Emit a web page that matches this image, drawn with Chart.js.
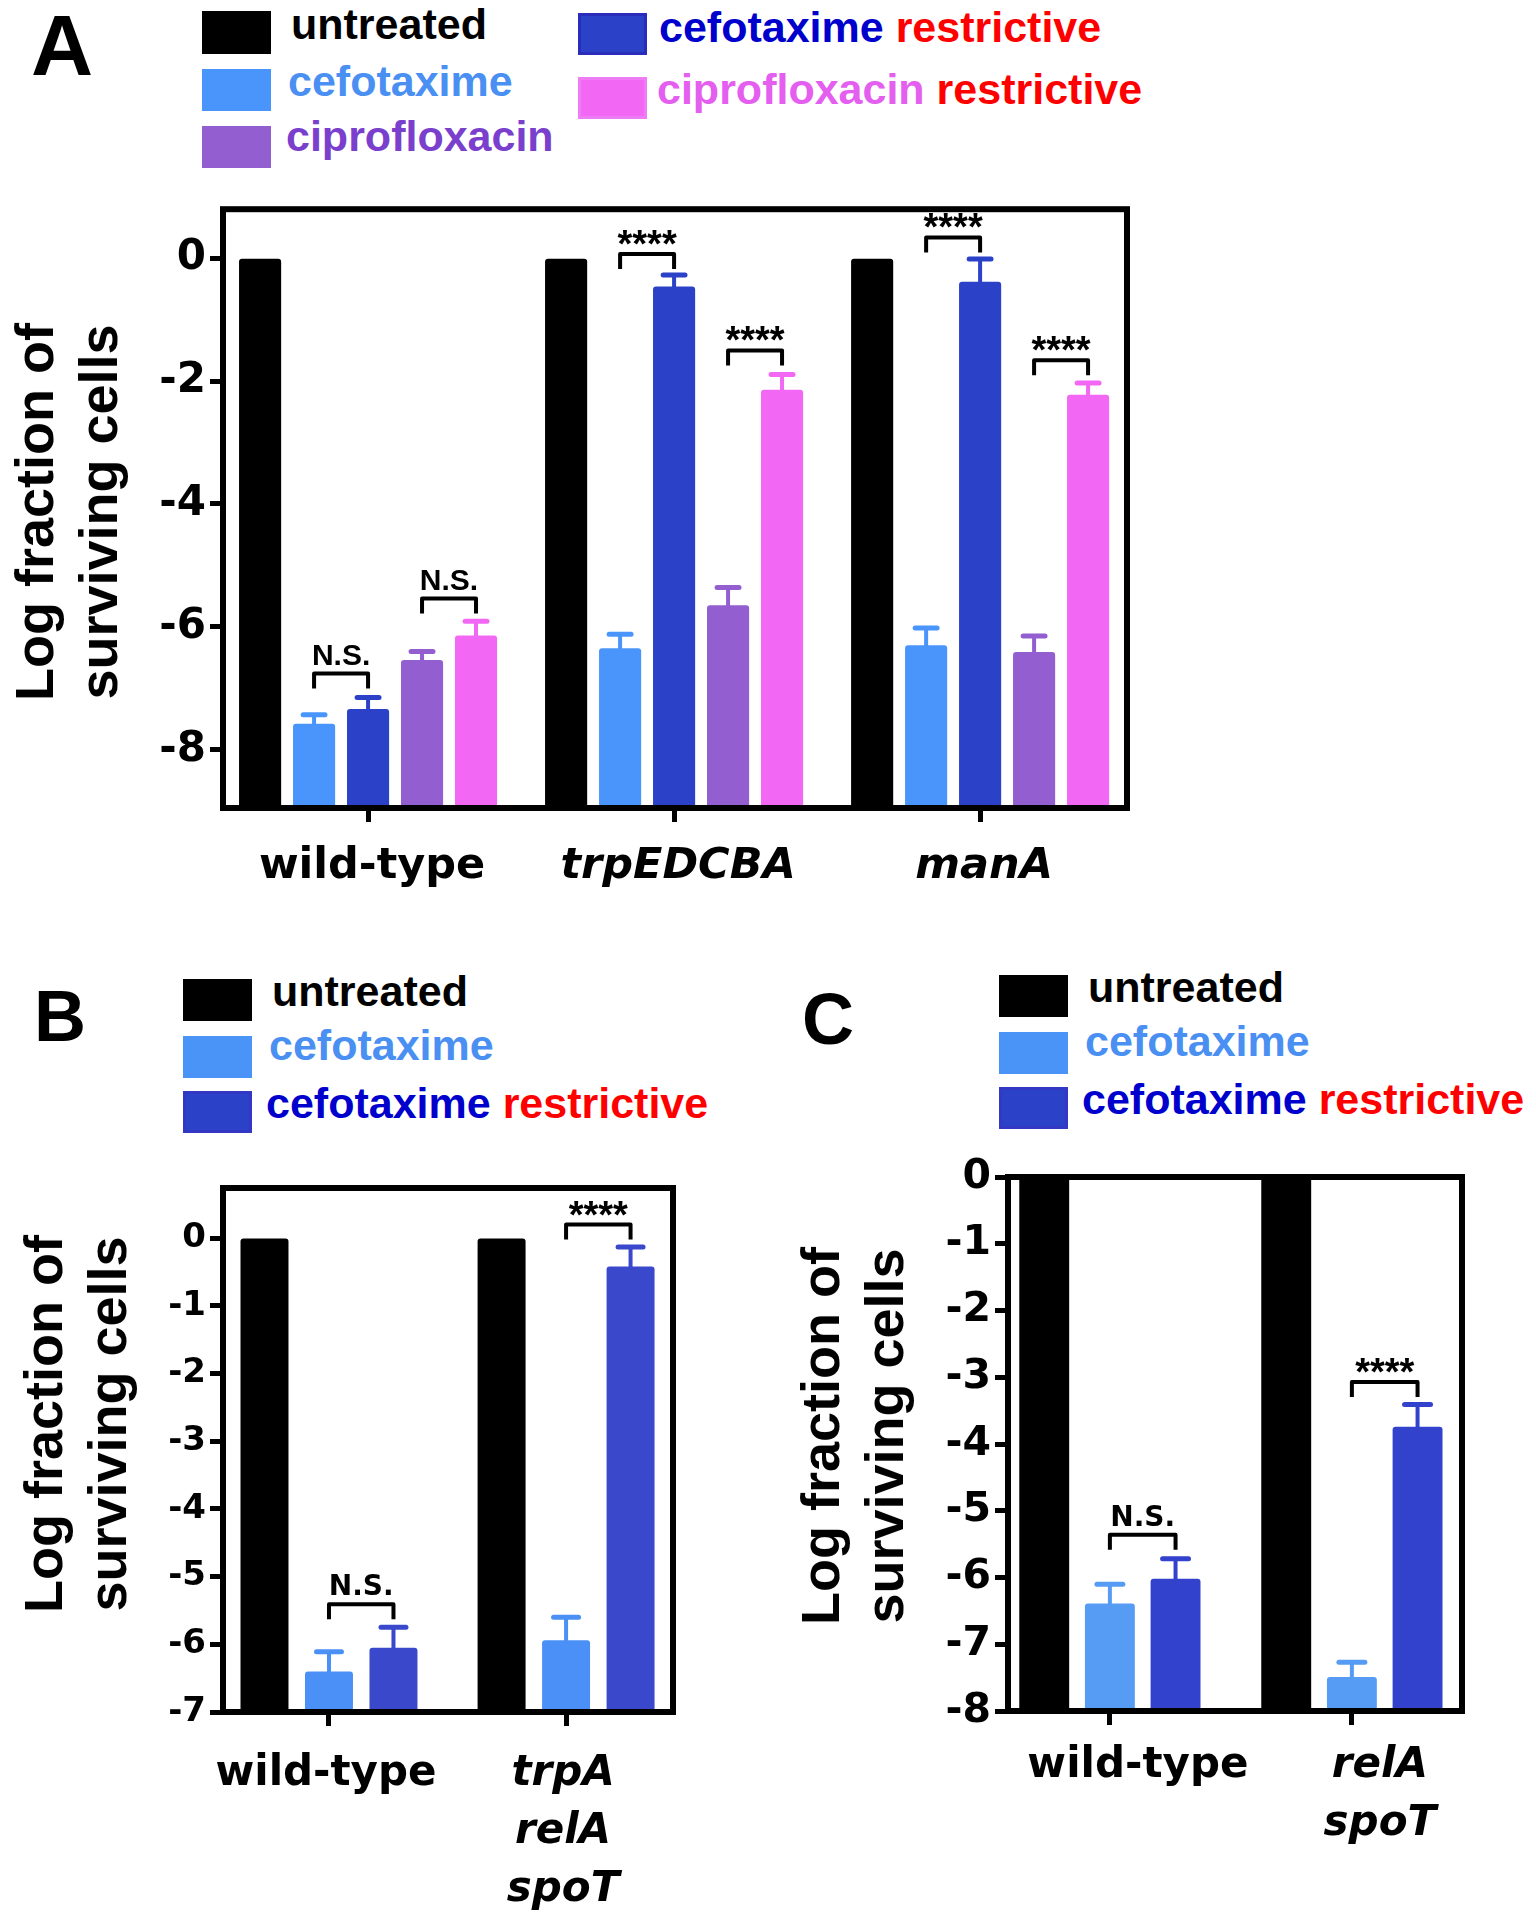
<!DOCTYPE html>
<html>
<head>
<meta charset="utf-8">
<title>Log fraction of surviving cells</title>
<script src="https://cdn.jsdelivr.net/npm/chart.js@4.4.1/dist/chart.umd.min.js"></script>
<style>
  html, body { margin:0; padding:0; background:#fff; }
  #page { position:relative; width:1536px; height:1920px; overflow:hidden; background:#fff; }
  .cv { position:absolute; }
  .txt { position:absolute; white-space:nowrap; font-weight:bold; line-height:1; }
  .lib { font-family:"Liberation Sans", Arial, sans-serif; }
  .dv { font-family:"DejaVu Sans", sans-serif; }
  .sw { position:absolute; box-sizing:border-box; }
  .ytitle { position:absolute; white-space:nowrap; font-family:"Liberation Sans", Arial, sans-serif; font-weight:bold;
            font-size:54px; line-height:64px; text-align:center; transform:translate(-50%,-50%) rotate(-90deg); color:#000; }
</style>
</head>
<body>
<div id="page">
  <canvas id="chartA" class="cv" width="1160" height="780" style="left:0;top:180px;"></canvas>
  <canvas id="chartB" class="cv" width="720" height="770" style="left:0;top:1150px;"></canvas>
  <canvas id="chartC" class="cv" width="796" height="780" style="left:740px;top:1140px;"></canvas>

  <!-- Panel A letter and legend -->
  <div class="txt lib" style="left:31px;top:2px;font-size:86px;">A</div>
  <div class="sw" style="left:202px;top:11px;width:69px;height:43px;background:#000;"></div>
  <div class="txt lib" style="left:291px;top:3px;font-size:43px;color:#000;">untreated</div>
  <div class="sw" style="left:202px;top:69px;width:69px;height:42px;background:#4A95FB;"></div>
  <div class="txt lib" style="left:288px;top:60px;font-size:43px;color:#4A8FF2;">cefotaxime</div>
  <div class="sw" style="left:202px;top:126px;width:69px;height:42px;background:#925ED0;"></div>
  <div class="txt lib" style="left:286px;top:115px;font-size:43px;color:#7A3FCC;">ciprofloxacin</div>
  <div class="sw" style="left:578px;top:13px;width:69px;height:42px;background:#2B41C8;border:3px solid #2A2DBB;"></div>
  <div class="txt lib" style="left:659px;top:6px;font-size:43px;"><span style="color:#0000CC;">cefotaxime</span> <span style="color:#FF0000;">restrictive</span></div>
  <div class="sw" style="left:578px;top:77px;width:69px;height:42px;background:#F268F5;border:3px solid #EE7CF4;"></div>
  <div class="txt lib" style="left:657px;top:68px;font-size:43px;"><span style="color:#E45EF0;">ciprofloxacin</span> <span style="color:#FF0000;">restrictive</span></div>
  <div class="ytitle" style="left:66px;top:512px;">Log fraction of<br>surviving cells</div>

  <!-- Panel B letter and legend -->
  <div class="txt lib" style="left:34px;top:980px;font-size:72px;">B</div>
  <div class="sw" style="left:183px;top:979px;width:69px;height:42px;background:#000;"></div>
  <div class="txt lib" style="left:272px;top:970px;font-size:43px;color:#000;">untreated</div>
  <div class="sw" style="left:183px;top:1036px;width:69px;height:42px;background:#4A94F8;"></div>
  <div class="txt lib" style="left:269px;top:1024px;font-size:43px;color:#4A8FF2;">cefotaxime</div>
  <div class="sw" style="left:183px;top:1091px;width:69px;height:42px;background:#2B41C8;border:3px solid #3338C4;"></div>
  <div class="txt lib" style="left:266px;top:1082px;font-size:43px;"><span style="color:#0000CC;">cefotaxime</span> <span style="color:#FF0000;">restrictive</span></div>
  <div class="ytitle" style="left:75px;top:1424px;">Log fraction of<br>surviving cells</div>

  <!-- Panel C letter and legend -->
  <div class="txt lib" style="left:802px;top:983px;font-size:72px;">C</div>
  <div class="sw" style="left:999px;top:975px;width:69px;height:42px;background:#000;"></div>
  <div class="txt lib" style="left:1088px;top:966px;font-size:43px;color:#000;">untreated</div>
  <div class="sw" style="left:999px;top:1032px;width:69px;height:42px;background:#4A94F8;"></div>
  <div class="txt lib" style="left:1085px;top:1020px;font-size:43px;color:#4A8FF2;">cefotaxime</div>
  <div class="sw" style="left:999px;top:1087px;width:69px;height:42px;background:#2B41C8;border:3px solid #3338C4;"></div>
  <div class="txt lib" style="left:1082px;top:1078px;font-size:43px;"><span style="color:#0000CC;">cefotaxime</span> <span style="color:#FF0000;">restrictive</span></div>
  <div class="ytitle" style="left:852px;top:1436px;">Log fraction of<br>surviving cells</div>
</div>

<script>
// ================= DATA =================
// Panel A
const categoriesA = ["wild-type", "trpEDCBA", "manA"];
const italicA = [false, true, true];
const yTicksA = [0, -2, -4, -6, -8];
const untreatedA = [0, 0, 0];
const cefotaximeA = [-7.58, -6.35, -6.30];
const cefotaximeErrA = [0.15, 0.23, 0.28];
const cefotaximeRestrictiveA = [-7.34, -0.46, -0.38];
const cefotaximeRestrictiveErrA = [0.19, 0.19, 0.37];
const ciprofloxacinA = [-6.54, -5.65, -6.41];
const ciprofloxacinErrA = [0.14, 0.29, 0.26];
const ciprofloxacinRestrictiveA = [-6.14, -2.14, -2.22];
const ciprofloxacinRestrictiveErrA = [0.23, 0.25, 0.19];
const significanceA = [
  { group: 0, from: 1, to: 2, level: -6.76, text: "N.S." },
  { group: 0, from: 3, to: 4, level: -5.54, text: "N.S." },
  { group: 1, from: 1, to: 2, level: 0.07, text: "****" },
  { group: 1, from: 3, to: 4, level: -1.50, text: "****" },
  { group: 2, from: 1, to: 2, level: 0.34, text: "****" },
  { group: 2, from: 3, to: 4, level: -1.66, text: "****" }
];

// Panel B
const categoriesB = ["wild-type", ["trpA", "relA", "spoT"]];
const italicB = [false, true];
const yTicksB = [0, -1, -2, -3, -4, -5, -6, -7];
const untreatedB = [0, 0];
const cefotaximeB = [-6.40, -5.94];
const cefotaximeErrB = [0.29, 0.34];
const cefotaximeRestrictiveB = [-6.05, -0.42];
const cefotaximeRestrictiveErrB = [0.30, 0.29];
const significanceB = [
  { group: 0, from: 1, to: 2, level: -5.41, text: "N.S." },
  { group: 1, from: 1, to: 2, level: 0.20, text: "****" }
];

// Panel C
const categoriesC = ["wild-type", ["relA", "spoT"]];
const italicC = [false, true];
const yTicksC = [0, -1, -2, -3, -4, -5, -6, -7, -8];
const untreatedC = [0, 0];
const cefotaximeC = [-6.39, -7.49];
const cefotaximeErrC = [0.29, 0.22];
const cefotaximeRestrictiveC = [-6.02, -3.74];
const cefotaximeRestrictiveErrC = [0.30, 0.33];
const significanceC = [
  { group: 0, from: 1, to: 2, level: -5.36, text: "N.S." },
  { group: 1, from: 1, to: 2, level: -3.07, text: "****" }
];

// ================= DRAWING =================
function overlayPlugin(opt) {
  return {
    id: 'overlay',
    afterDatasetsDraw(chart) {
      const ctx = chart.ctx, a = chart.chartArea, y = chart.scales.y;
      ctx.save();
      chart.data.datasets.forEach((ds, di) => {
        if (!ds.errors) return;
        const meta = chart.getDatasetMeta(di);
        meta.data.forEach((bar, i) => {
          const v = ds.values[i], e = ds.errors[i];
          if (e == null) return;
          const y0 = y.getPixelForValue(v), y1 = y.getPixelForValue(v + e);
          const cap = bar.width * opt.capRatio;
          ctx.strokeStyle = ds.backgroundColor;
          ctx.lineCap = 'butt';
          ctx.lineWidth = opt.errWidth;
          ctx.beginPath(); ctx.moveTo(bar.x, y0 + 2); ctx.lineTo(bar.x, y1); ctx.stroke();
          ctx.lineWidth = opt.capWidth; ctx.lineCap = 'round';
          ctx.beginPath(); ctx.moveTo(bar.x - cap / 2, y1); ctx.lineTo(bar.x + cap / 2, y1); ctx.stroke();
        });
      });
      ctx.lineCap = 'butt'; ctx.lineJoin = 'miter';
      ctx.strokeStyle = '#000'; ctx.lineWidth = opt.frameWidth;
      ctx.strokeRect(a.left, a.top, a.right - a.left, a.bottom - a.top);
      opt.sig.forEach(s => {
        const b1 = chart.getDatasetMeta(s.from).data[s.group];
        const b2 = chart.getDatasetMeta(s.to).data[s.group];
        const yy = y.getPixelForValue(s.level);
        ctx.strokeStyle = '#000'; ctx.lineWidth = opt.bracketWidth; ctx.lineJoin = 'round';
        ctx.beginPath();
        ctx.moveTo(b1.x, yy + opt.drop); ctx.lineTo(b1.x, yy); ctx.lineTo(b2.x, yy); ctx.lineTo(b2.x, yy + opt.drop);
        ctx.stroke();
        const isStars = s.text.indexOf('*') >= 0;
        ctx.font = 'bold ' + (isStars ? opt.starSize : opt.nsSize) + 'px ' + (isStars ? opt.starFont : opt.nsFont);
        ctx.fillStyle = '#000'; ctx.textAlign = 'center'; ctx.textBaseline = 'alphabetic';
        const m = ctx.measureText(s.text);
        ctx.fillText(s.text, (b1.x + b2.x) / 2, yy - opt.bracketWidth / 2 - opt.textGap - m.actualBoundingBoxDescent);
      });
      ctx.restore();
    }
  };
}

function makeChart(id, cfg) {
  const datasets = cfg.series.map(s => ({
    label: s.name,
    data: s.values.map((v, i) => ({ x: i, y: [cfg.yMin, v] })),
    values: s.values,
    errors: s.errors || null,
    backgroundColor: s.color,
    borderWidth: 0,
    borderRadius: { topLeft: 3, topRight: 3, bottomLeft: 0, bottomRight: 0 },
    borderSkipped: false,
    categoryPercentage: cfg.catPct,
    barPercentage: cfg.barPct
  }));
  return new Chart(document.getElementById(id), {
    type: 'bar',
    data: { datasets },
    options: {
      responsive: false,
      animation: false,
      events: [],
      layout: { padding: { top: cfg.padTop, right: cfg.padRight, left: 0, bottom: 0 } },
      plugins: { legend: { display: false }, tooltip: { enabled: false } },
      scales: {
        x: {
          type: 'linear',
          offset: false,
          min: cfg.xMin, max: cfg.xMax,
          afterBuildTicks: sc => { sc.ticks = cfg.categories.map((c, i) => ({ value: i })); },
          afterFit: sc => { sc.height = cfg.xAxisH; },
          grid: { display: true, offset: false, drawOnChartArea: false, drawTicks: true, tickLength: 14, tickWidth: 5, tickColor: '#000' },
          border: { display: false },
          ticks: {
            autoSkip: false, maxRotation: 0, minRotation: 0, color: '#000', padding: cfg.xPad,
            labelOffset: cfg.xLabelOffset,
            callback: (value, index) => cfg.categories[index],
            font: c => ({ family: '"DejaVu Sans", sans-serif', size: cfg.xFontSize, weight: 'bold',
                          style: cfg.italic[c.index] ? 'italic' : 'normal', lineHeight: cfg.xLineH })
          }
        },
        y: {
          type: 'linear',
          min: cfg.yMin, max: cfg.yMax,
          afterBuildTicks: sc => { sc.ticks = cfg.yTicks.map(v => ({ value: v })); },
          afterFit: sc => { sc.width = cfg.yAxisW; },
          grid: { display: true, drawOnChartArea: false, drawTicks: true, tickLength: 13, tickWidth: 5, tickColor: '#000' },
          border: { display: false },
          ticks: { autoSkip: false, color: '#000', padding: 4,
                   font: { family: '"DejaVu Sans", sans-serif', size: cfg.yFontSize, weight: 'bold' } }
        }
      }
    },
    plugins: [overlayPlugin({
      sig: cfg.sig, capRatio: 0.52, errWidth: 4, capWidth: 5, frameWidth: 6,
      bracketWidth: 4, drop: 15, textGap: 7,
      starSize: 38, starFont: '"Liberation Sans", Arial, sans-serif',
      nsSize: cfg.nsSize, nsFont: cfg.nsFont
    })]
  });
}

makeChart('chartA', {
  categories: categoriesA, italic: italicA, yTicks: yTicksA,
  yMin: -8.95, yMax: 0.8, xMin: -0.474, xMax: 2.48,
  catPct: 0.882, barPct: 0.78,
  padTop: 29, padRight: 33, yAxisW: 223, xAxisH: 152, xPad: 19, xLineH: 1.2, yFontSize: 42,
  xFontSize: 43, xLabelOffset: 4,
  nsSize: 30, nsFont: '"Liberation Sans", Arial, sans-serif',
  sig: significanceA,
  series: [
    { name: 'untreated', values: untreatedA, color: '#000000' },
    { name: 'cefotaxime', values: cefotaximeA, errors: cefotaximeErrA, color: '#4A95FB' },
    { name: 'cefotaxime restrictive', values: cefotaximeRestrictiveA, errors: cefotaximeRestrictiveErrA, color: '#2B41C8' },
    { name: 'ciprofloxacin', values: ciprofloxacinA, errors: ciprofloxacinErrA, color: '#925ED0' },
    { name: 'ciprofloxacin restrictive', values: ciprofloxacinRestrictiveA, errors: ciprofloxacinRestrictiveErrA, color: '#F268F5' }
  ]
});

makeChart('chartB', {
  categories: categoriesB, italic: italicB, yTicks: yTicksB,
  yMin: -7, yMax: 0.74, xMin: -0.447, xMax: 1.451,
  catPct: 0.816, barPct: 0.744,
  padTop: 38, padRight: 47, yAxisW: 223, xAxisH: 208, xPad: 19, xLineH: 1.38, yFontSize: 34,
  xFontSize: 42, xLabelOffset: -3,
  nsSize: 28, nsFont: '"DejaVu Sans", sans-serif',
  sig: significanceB,
  series: [
    { name: 'untreated', values: untreatedB, color: '#000000' },
    { name: 'cefotaxime', values: cefotaximeB, errors: cefotaximeErrB, color: '#4A90F6' },
    { name: 'cefotaxime restrictive', values: cefotaximeRestrictiveB, errors: cefotaximeRestrictiveErrB, color: '#3A48CB' }
  ]
});

makeChart('chartC', {
  categories: categoriesC, italic: italicC, yTicks: yTicksC,
  yMin: -8, yMax: 0, xMin: -0.421, xMax: 1.455,
  catPct: 0.814, barPct: 0.76,
  padTop: 37, padRight: 74, yAxisW: 268, xAxisH: 209, xPad: 12, xLineH: 1.38, yFontSize: 41,
  xFontSize: 42, xLabelOffset: 28,
  nsSize: 28, nsFont: '"DejaVu Sans", sans-serif',
  sig: significanceC,
  series: [
    { name: 'untreated', values: untreatedC, color: '#000000' },
    { name: 'cefotaxime', values: cefotaximeC, errors: cefotaximeErrC, color: '#569CF5' },
    { name: 'cefotaxime restrictive', values: cefotaximeRestrictiveC, errors: cefotaximeRestrictiveErrC, color: '#3242CC' }
  ]
});
</script>
</body>
</html>
